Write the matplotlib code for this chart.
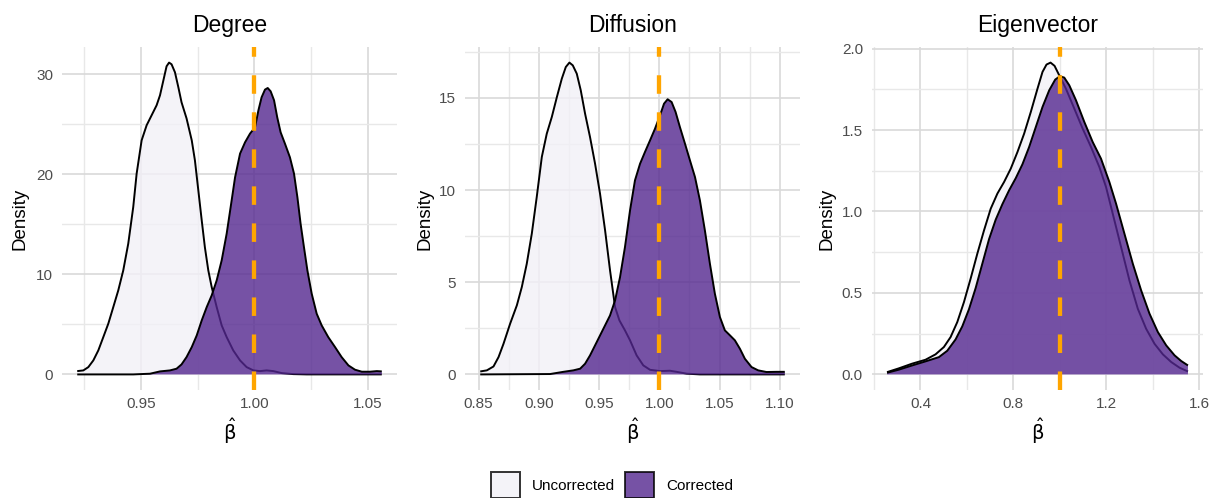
import matplotlib
matplotlib.use("Agg")
import matplotlib.pyplot as plt
from matplotlib.patches import Patch
from matplotlib.ticker import MultipleLocator
import numpy as np

plt.rcParams['font.family'] = ['Liberation Sans', 'DejaVu Sans']
plt.rcParams['mathtext.fontset'] = 'dejavusans'

# ---------------- data ----------------
panel_titles = ["Degree", "Diffusion", "Eigenvector"]
series_labels = ["Uncorrected", "Corrected"]
true_value = 1.0

# Degree
deg_unc_x = [0.9219, 0.9246, 0.9268, 0.9290, 0.9312, 0.9334, 0.9356, 0.9378, 0.9400, 0.9422,
             0.9444, 0.9466, 0.9481, 0.9503, 0.9525, 0.9547, 0.9569, 0.9584, 0.9599, 0.9613,
             0.9624, 0.9635, 0.9650, 0.9665, 0.9679, 0.9701, 0.9724, 0.9738, 0.9753, 0.9768,
             0.9782, 0.9797, 0.9812, 0.9834, 0.9856, 0.9878, 0.9907, 0.9937, 0.9966, 0.9996,
             1.0025, 1.0054, 1.0084, 1.0121, 1.0172, 1.0231, 1.0562]
deg_unc_y = [0.33, 0.40, 0.73, 1.40, 2.40, 3.73, 5.07, 6.73, 8.40, 10.4,
             13.07, 16.73, 20.07, 23.4, 24.9, 25.9, 26.9, 27.9, 29.4, 30.8,
             31.17, 31.0, 30.2, 28.7, 27.2, 25.6, 23.4, 21.4, 18.4, 15.4,
             12.7, 10.4, 8.73, 6.73, 4.9, 3.73, 2.4, 1.4, 0.73, 0.4,
             0.33, 0.4, 0.33, 0.13, 0.03, 0.0, 0.0]
deg_cor_x = [0.9219, 0.9466, 0.9540, 0.9584, 0.9628, 0.9657, 0.9679, 0.9701, 0.9724, 0.9746,
             0.9768, 0.9790, 0.9812, 0.9834, 0.9856, 0.9878, 0.9900, 0.9915, 0.9937, 0.9959,
             0.9981, 1.0003, 1.0018, 1.0032, 1.0047, 1.0059, 1.0072, 1.0087, 1.0101, 1.0116,
             1.0135, 1.0157, 1.0175, 1.0190, 1.0204, 1.0219, 1.0234, 1.0253, 1.0275, 1.0297,
             1.0326, 1.0356, 1.0385, 1.0415, 1.0444, 1.0474, 1.0510, 1.0540, 1.0562]
deg_cor_y = [0.0, 0.0, 0.07, 0.3, 0.4, 0.57, 1.0, 1.73, 2.73, 3.9,
             5.4, 6.73, 7.9, 9.4, 11.4, 14.07, 17.4, 19.7, 22.07, 23.2,
             24.07, 24.7, 26.4, 27.7, 28.47, 28.63, 28.3, 27.4, 25.7, 24.2,
             23.07, 21.7, 20.07, 17.7, 15.07, 12.7, 10.4, 8.07, 6.07, 4.9,
             3.73, 2.73, 1.73, 0.9, 0.47, 0.27, 0.27, 0.33, 0.3]

# Diffusion
dif_unc_x = [0.8514, 0.8569, 0.8624, 0.8666, 0.8707, 0.8762, 0.8818, 0.8859, 0.8900, 0.8942,
             0.8983, 0.9025, 0.9066, 0.9108, 0.9150, 0.9191, 0.9224, 0.9254, 0.9282, 0.9315,
             0.9348, 0.9384, 0.9425, 0.9467, 0.9508, 0.9550, 0.9591, 0.9633, 0.9669, 0.9715,
             0.9757, 0.9812, 0.9867, 0.9923, 1.0006, 1.0088, 1.0144, 1.0227, 1.0337, 1.1041]
dif_unc_y = [0.16, 0.22, 0.43, 0.94, 1.66, 2.75, 3.75, 4.74, 6.0, 7.64,
             9.63, 11.8, 13.06, 13.97, 15.05, 16.05, 16.68, 16.92, 16.77, 16.32,
             15.42, 14.15, 12.88, 11.43, 9.81, 7.82, 5.65, 3.65, 2.93, 2.39,
             1.85, 1.03, 0.49, 0.25, 0.18, 0.2, 0.14, 0.04, 0.0, 0.0]
dif_cor_x = [0.8514, 0.9094, 0.9204, 0.9287, 0.9343, 0.9384, 0.9425, 0.9481, 0.9536, 0.9591,
             0.9633, 0.9674, 0.9715, 0.9757, 0.9798, 0.9840, 0.9881, 0.9923, 0.9964, 1.0006,
             1.0039, 1.0069, 1.0102, 1.0135, 1.0171, 1.0213, 1.0254, 1.0296, 1.0337, 1.0378,
             1.0420, 1.0461, 1.0503, 1.0544, 1.0586, 1.0627, 1.0669, 1.0710, 1.0765, 1.0820,
             1.0889, 1.0972, 1.1041]
dif_cor_y = [0.0, 0.02, 0.14, 0.22, 0.31, 0.58, 1.03, 1.76, 2.48, 3.2,
             4.02, 5.28, 6.91, 8.9, 10.53, 11.43, 12.07, 12.7, 13.33, 14.06,
             14.69, 14.93, 14.78, 14.24, 13.42, 12.52, 11.62, 10.71, 9.44, 7.82,
             6.0, 4.38, 3.11, 2.39, 2.12, 1.85, 1.39, 0.85, 0.4, 0.22,
             0.13, 0.14, 0.14]

# Eigenvector
eig_unc_x = [0.2561, 0.3065, 0.3640, 0.4216, 0.4647, 0.5007, 0.5295, 0.5583, 0.5871, 0.6158,
             0.6446, 0.6734, 0.7022, 0.7310, 0.7597, 0.7885, 0.8173, 0.8461, 0.8748, 0.9036,
             0.9252, 0.9424, 0.9597, 0.9770, 0.9971, 1.0259, 1.0619, 1.0978, 1.1338, 1.1698,
             1.1986, 1.2273, 1.2633, 1.2993, 1.3353, 1.3712, 1.4072, 1.4432, 1.4791, 1.5151,
             1.5511]
eig_unc_y = [0.014, 0.037, 0.066, 0.09, 0.123, 0.168, 0.229, 0.321, 0.444, 0.588,
             0.741, 0.884, 1.017, 1.11, 1.181, 1.263, 1.365, 1.478, 1.611, 1.754,
             1.857, 1.902, 1.914, 1.894, 1.836, 1.754, 1.632, 1.509, 1.396, 1.273,
             1.15, 0.987, 0.782, 0.577, 0.403, 0.28, 0.188, 0.123, 0.076, 0.041,
             0.018]
eig_cor_x = [0.2561, 0.3065, 0.3640, 0.4216, 0.4791, 0.5151, 0.5511, 0.5799, 0.6086, 0.6374,
             0.6662, 0.6950, 0.7237, 0.7525, 0.7813, 0.8101, 0.8388, 0.8676, 0.8964, 0.9252,
             0.9540, 0.9799, 1.0000, 1.0187, 1.0403, 1.0691, 1.1050, 1.1410, 1.1770, 1.2129,
             1.2417, 1.2777, 1.3137, 1.3496, 1.3856, 1.4216, 1.4576, 1.4935, 1.5223, 1.5511]
eig_cor_y = [0.01, 0.029, 0.055, 0.08, 0.106, 0.145, 0.215, 0.295, 0.40, 0.53,
             0.68, 0.83, 0.95, 1.045, 1.13, 1.205, 1.29, 1.396, 1.519, 1.642,
             1.744, 1.81, 1.83, 1.822, 1.775, 1.683, 1.55, 1.427, 1.324, 1.181,
             1.048, 0.864, 0.68, 0.516, 0.373, 0.26, 0.178, 0.117, 0.082, 0.055]

# ticks
deg_xticks = [0.95, 1.00, 1.05]
deg_yticks = [0, 10, 20, 30]
dif_xticks = [0.85, 0.90, 0.95, 1.00, 1.05, 1.10]
dif_yticks = [0, 5, 10, 15]
eig_xticks = [0.4, 0.8, 1.2, 1.6]
eig_yticks = [0.0, 0.5, 1.0, 1.5, 2.0]

# ---------------- styling ----------------
W, H = 1216, 498
fill_colors = ["#F2F0F7", "#54278F"]
fill_alpha = 0.8
vline_color = "#FFA500"
tick_color = "#4D4D4D"

panels = [
    dict(title=panel_titles[0], curves=[(deg_unc_x, deg_unc_y), (deg_cor_x, deg_cor_y)],
         xticks=deg_xticks, yticks=deg_yticks, xfmt="{:.2f}", yfmt="{:.0f}",
         box=(62, 397), ylab_x=20),
    dict(title=panel_titles[1], curves=[(dif_unc_x, dif_unc_y), (dif_cor_x, dif_cor_y)],
         xticks=dif_xticks, yticks=dif_yticks, xfmt="{:.2f}", yfmt="{:.0f}",
         box=(465, 800), ylab_x=425),
    dict(title=panel_titles[2], curves=[(eig_unc_x, eig_unc_y), (eig_cor_x, eig_cor_y)],
         xticks=eig_xticks, yticks=eig_yticks, xfmt="{:.1f}", yfmt="{:.1f}",
         box=(872, 1203), ylab_x=827),
]

fig = plt.figure(figsize=(W / 100, H / 100), dpi=100)
fig.patch.set_facecolor("white")

top_px, bot_px = 47, 390
for p in panels:
    l, r = p["box"]
    ax = fig.add_axes([l / W, 1 - bot_px / H, (r - l) / W, (bot_px - top_px) / H])
    allx = np.concatenate([np.asarray(c[0]) for c in p["curves"]])
    ally = np.concatenate([np.asarray(c[1]) for c in p["curves"]])
    xlo, xhi = allx.min(), allx.max()
    xpad = 0.05 * (xhi - xlo)
    ymax = ally.max()
    ax.set_xlim(xlo - xpad, xhi + xpad)
    ax.set_ylim(-0.05 * ymax, ymax * 1.05)

    for i, (cx, cy) in enumerate(p["curves"]):
        ax.fill_between(cx, 0, cy, facecolor=fill_colors[i], alpha=fill_alpha,
                        linewidth=0, zorder=2 + i)
        ax.plot(cx, cy, color="black", lw=1.4, zorder=2 + i,
                solid_joinstyle="round", solid_capstyle="butt")

    ax.axvline(true_value, color=vline_color, lw=3.1, dashes=(4.3, 4.3), zorder=10)

    xt = p["xticks"]
    yt = p["yticks"]
    ax.set_xticks(xt)
    ax.set_xticklabels([p["xfmt"].format(v) for v in xt])
    ax.set_yticks(yt)
    ax.set_yticklabels([p["yfmt"].format(v) for v in yt])
    ax.xaxis.set_minor_locator(MultipleLocator((xt[1] - xt[0]) / 2))
    ax.yaxis.set_minor_locator(MultipleLocator((yt[1] - yt[0]) / 2))
    ax.grid(True, which="major", color="#D9D9D9", lw=1.2, zorder=0)
    ax.grid(True, which="minor", color="#E8E8E8", lw=1.0, zorder=0)
    ax.set_axisbelow(True)
    ax.tick_params(which="both", length=0)
    ax.tick_params(axis="x", labelsize=11, labelcolor=tick_color, pad=5)
    ax.tick_params(axis="y", labelsize=11, labelcolor=tick_color, pad=6.5)
    for s in ax.spines.values():
        s.set_visible(False)

    ax.set_title(p["title"], fontsize=16.5, pad=10.5)
    ax.set_ylabel("Density", fontsize=13.5, va="center")
    ax.yaxis.set_label_coords((p["ylab_x"] - l) / (r - l), 0.5)
    ax.set_xlabel(r"$\hat{\mathrm{\beta}}$", fontsize=14, va="center")
    ax.xaxis.set_label_coords(0.5, -(431 - bot_px) / (bot_px - top_px))

handles = [Patch(facecolor=fill_colors[i], alpha=fill_alpha, edgecolor="black", lw=1.4,
                 label=series_labels[i]) for i in range(2)]
fig.legend(handles=handles, loc="center", bbox_to_anchor=(612 / W, 1 - 485 / H),
           ncol=2, frameon=False, fontsize=11, handlelength=1.9, handleheight=2.2,
           handletextpad=0.8, columnspacing=0.65, borderpad=0)

fig.savefig("out.png", dpi=100, facecolor="white")
